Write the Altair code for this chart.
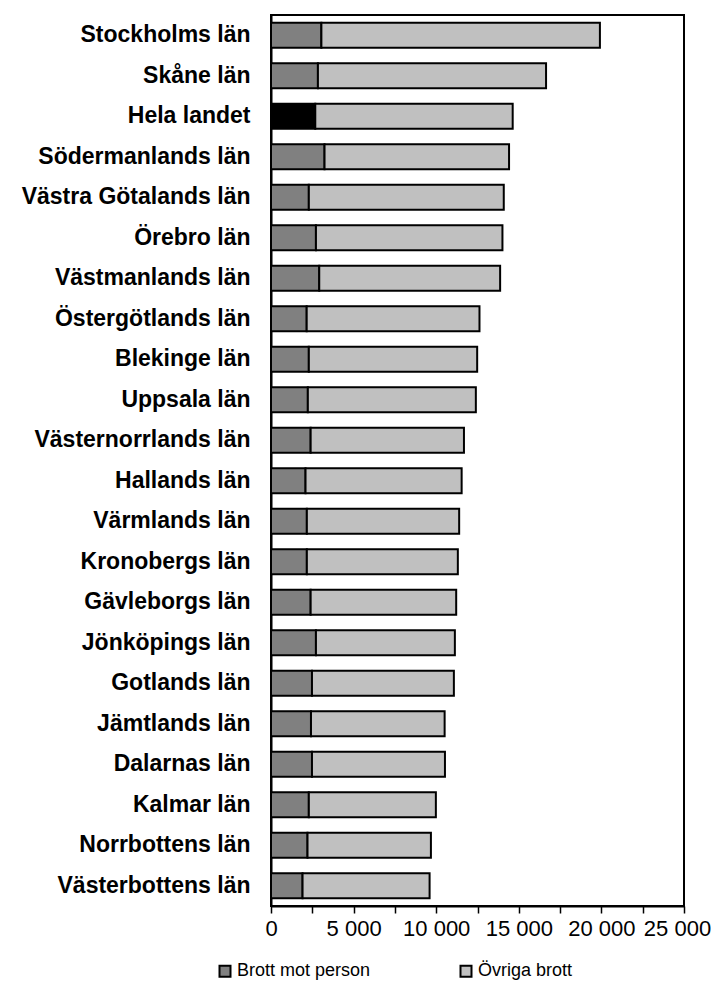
import altair as alt
import pandas as pd

regions = [
    "Stockholms län", "Skåne län", "Hela landet", "Södermanlands län",
    "Västra Götalands län", "Örebro län", "Västmanlands län", "Östergötlands län",
    "Blekinge län", "Uppsala län", "Västernorrlands län", "Hallands län",
    "Värmlands län", "Kronobergs län", "Gävleborgs län", "Jönköpings län",
    "Gotlands län", "Jämtlands län", "Dalarnas län", "Kalmar län",
    "Norrbottens län", "Västerbottens län",
]
brott_mot_person = [3050, 2840, 2680, 3240, 2290, 2720, 2920, 2160, 2290, 2230, 2400,
                    2090, 2170, 2170, 2400, 2720, 2480, 2420, 2480, 2290, 2210, 1910]
ovriga_brott = [16860, 13810, 11950, 11170, 11800, 11290, 10950, 10460, 10190, 10170, 9280,
                9450, 9220, 9140, 8810, 8410, 8590, 8090, 8050, 7690, 7470, 7690]
series = ["Brott mot person", "Övriga brott"]
tick_values = [0, 2500, 5000, 7500, 10000, 12500, 15000, 17500, 20000, 22500, 25000]

rows = []
for i, r in enumerate(regions):
    rows.append({"region": r, "typ": series[0],
                 "farg": "Hela landet" if r == "Hela landet" else series[0],
                 "varde": brott_mot_person[i], "ordning": 0})
    rows.append({"region": r, "typ": series[1], "farg": series[1],
                 "varde": ovriga_brott[i], "ordning": 1})
df = pd.DataFrame(rows)

FONT = "Liberation Sans"

chart = alt.Chart(df).mark_bar(stroke="black", strokeWidth=2).encode(
    y=alt.Y("region:N", sort=regions, title=None,
            scale=alt.Scale(paddingInner=0.38, paddingOuter=0.19),
            axis=alt.Axis(labelFont=FONT, labelFontWeight="bold", labelFontSize=23,
                          labelColor="black", ticks=False, domainColor="black",
                          domainWidth=2, labelPadding=21, labelLimit=400)),
    x=alt.X("varde:Q", stack="zero", title=None,
            scale=alt.Scale(domain=[0, 25000], nice=False),
            axis=alt.Axis(values=tick_values, grid=False, domainColor="black", domainWidth=2,
                          tickColor="black", tickWidth=1.5, tickSize=7,
                          labelFont=FONT, labelFontSize=22, labelColor="black",
                          labelPadding=5, labelFlush=False, labelOverlap=False,
                          labelOffset={"condition": {"test": "datum.value == 25000", "value": -7},
                                       "value": 0},
                          labelExpr="datum.value % 5000 == 0 ? replace(format(datum.value, ','), ',', ' ') : ''")),
    color=alt.Color("farg:N",
                    scale=alt.Scale(domain=["Brott mot person", "Övriga brott", "Hela landet"],
                                    range=["#808080", "#C0C0C0", "#000000"]),
                    legend=alt.Legend(values=series, title=None, orient="none",
                                      direction="horizontal", legendX=-55, legendY=947,
                                      padding=0, symbolType="square", symbolSize=121,
                                      symbolStrokeColor="black", symbolStrokeWidth=2,
                                      labelFont=FONT, labelFontSize=18, labelColor="black",
                                      labelOffset=3, columnPadding=85)),
    order=alt.Order("ordning:Q"),
).properties(
    width=413, height=891,
    padding={"left": 263, "top": 7, "right": 27, "bottom": 76},
    autosize=alt.AutoSizeParams(type="none"),
).configure_view(stroke="black", strokeWidth=2)

chart.save("out.html", embed_options={"renderer": "svg", "actions": False})
